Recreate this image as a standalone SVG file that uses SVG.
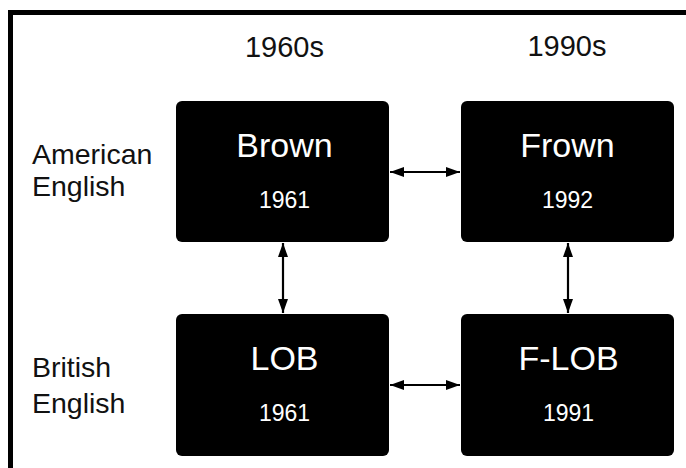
<svg xmlns="http://www.w3.org/2000/svg" width="686" height="468" viewBox="0 0 686 468">
<defs>
<style>
.box{fill:#000;}
.lbl{font-family:"Liberation Sans",Arial,sans-serif;fill:#111;font-size:28.5px;}
.hdr{font-family:"Liberation Sans",Arial,sans-serif;fill:#111;font-size:29px;text-anchor:middle;}
.name{font-family:"Liberation Sans",Arial,sans-serif;fill:#fff;font-size:34px;text-anchor:middle;}
.year{font-family:"Liberation Sans",Arial,sans-serif;fill:#fff;font-size:23px;text-anchor:middle;}
.conn{stroke:#000;stroke-width:2.2;fill:none;marker-start:url(#ah);marker-end:url(#ah);}
</style>
<marker id="ah" viewBox="0 0 14 10" refX="14" refY="5" markerWidth="14" markerHeight="10" markerUnits="userSpaceOnUse" orient="auto-start-reverse">
<path d="M0,0 L14,5 L0,10 Z" fill="#000"/>
</marker>
</defs>
<rect x="0" y="0" width="686" height="468" fill="#fff"/>
<path d="M10.5,468 V12.5 H686" fill="none" stroke="#000" stroke-width="5"/>
<g id="labels">
<text class="hdr" x="284.5" y="57">1960s</text>
<text class="hdr" x="567" y="56">1990s</text>
<text class="lbl" x="32" y="164">American</text>
<text class="lbl" x="32" y="196">English</text>
<text class="lbl" x="32" y="377">British</text>
<text class="lbl" x="32" y="413">English</text>
</g>
<g id="brown">
<rect class="box" x="176" y="101" width="213" height="141" rx="6"/>
<text class="name" x="284.5" y="157">Brown</text>
<text class="year" x="284.5" y="208">1961</text>
</g>
<g id="frown">
<rect class="box" x="461" y="101" width="213" height="141" rx="6"/>
<text class="name" x="567.5" y="157">Frown</text>
<text class="year" x="567.5" y="208">1992</text>
</g>
<g id="lob">
<rect class="box" x="176" y="314" width="213" height="142" rx="6"/>
<text class="name" x="284.5" y="370">LOB</text>
<text class="year" x="284.5" y="421">1961</text>
</g>
<g id="flob">
<rect class="box" x="461" y="314" width="213" height="142" rx="6"/>
<text class="name" x="568.5" y="370">F-LOB</text>
<text class="year" x="568.5" y="421">1991</text>
</g>
<g id="connectors">
<line class="conn" x1="390" y1="172" x2="460" y2="172"/>
<line class="conn" x1="390" y1="385" x2="460" y2="385"/>
<line class="conn" x1="283" y1="243" x2="283" y2="313"/>
<line class="conn" x1="568" y1="243" x2="568" y2="313"/>
</g>
</svg>
